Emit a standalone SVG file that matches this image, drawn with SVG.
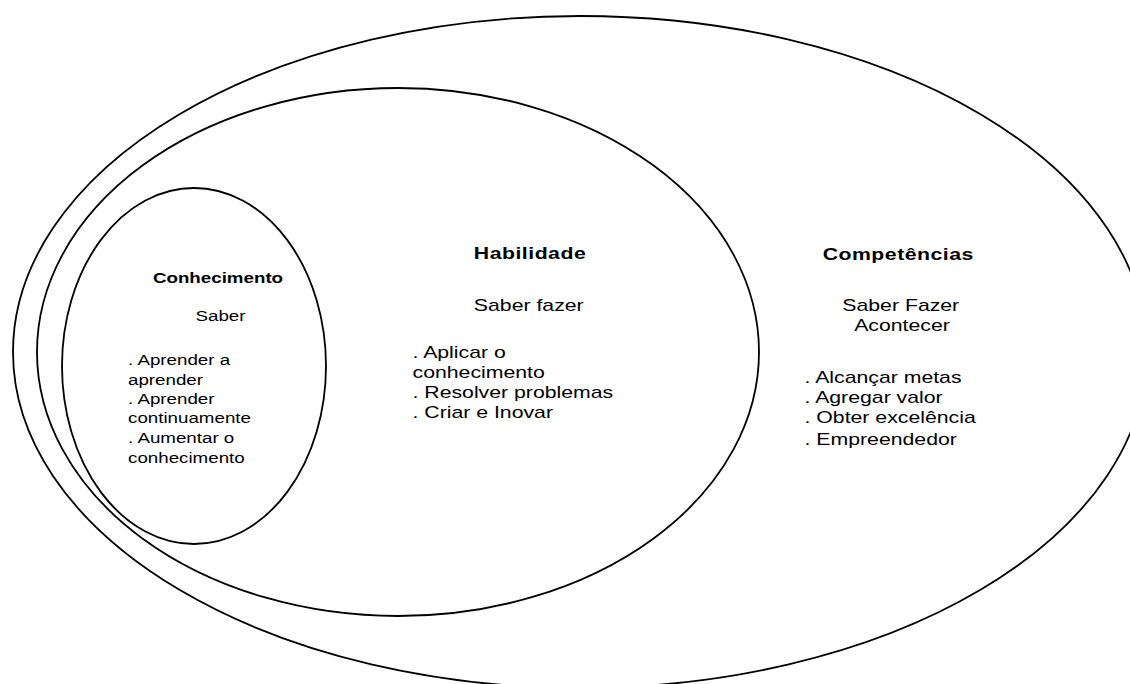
<svg xmlns="http://www.w3.org/2000/svg" width="1130" height="684" viewBox="0 0 1130 684">
<style>
.ring{fill:none;stroke:#000;stroke-width:1.8}
text{font-family:"Liberation Sans",Arial,sans-serif;fill:#000}
.t{font-weight:bold;font-size:17px;text-anchor:middle;letter-spacing:0.4px}
.ts{font-weight:bold;font-size:15px;text-anchor:middle}
.c{font-size:17px;text-anchor:middle}
.cs{font-size:15px;text-anchor:middle}
.b{font-size:17px}
.bs{font-size:15px}
</style>
<rect width="1130" height="684" fill="#fff"/>
<g id="competencias">
<ellipse class="ring" cx="580" cy="352" rx="567" ry="336"/>
<g transform="translate(897,0) scale(1.25,1)">
<text class="t" x="1" y="260">Competências</text>
<text class="c" x="3" y="311">Saber Fazer</text>
<text class="c" x="4" y="331">Acontecer</text>
<text class="b" x="-74" y="383">. Alcançar metas</text>
<text class="b" x="-74" y="403">. Agregar valor</text>
<text class="b" x="-74" y="423">. Obter excelência</text>
<text class="b" x="-74" y="445">. Empreendedor</text>
</g>
</g>
<g id="habilidade">
<ellipse class="ring" cx="398" cy="352" rx="361" ry="264"/>
<g transform="translate(530,0) scale(1.25,1)">
<text class="t" x="0" y="259">Habilidade</text>
<text class="c" x="-1" y="311">Saber fazer</text>
<text class="b" x="-94" y="358">. Aplicar o</text>
<text class="b" x="-94" y="378">conhecimento</text>
<text class="b" x="-94" y="398">. Resolver problemas</text>
<text class="b" x="-94" y="418">. Criar e Inovar</text>
</g>
</g>
<g id="conhecimento">
<ellipse class="ring" cx="194" cy="366" rx="132" ry="178"/>
<g transform="translate(218,0) scale(1.25,1)">
<text class="ts" x="0" y="283">Conhecimento</text>
<text class="cs" x="2" y="321">Saber</text>
<text class="bs" x="-72" y="365">. Aprender a</text>
<text class="bs" x="-72" y="385">aprender</text>
<text class="bs" x="-72" y="404">. Aprender</text>
<text class="bs" x="-72" y="423">continuamente</text>
<text class="bs" x="-72" y="443">. Aumentar o</text>
<text class="bs" x="-72" y="463">conhecimento</text>
</g>
</g>
</svg>
